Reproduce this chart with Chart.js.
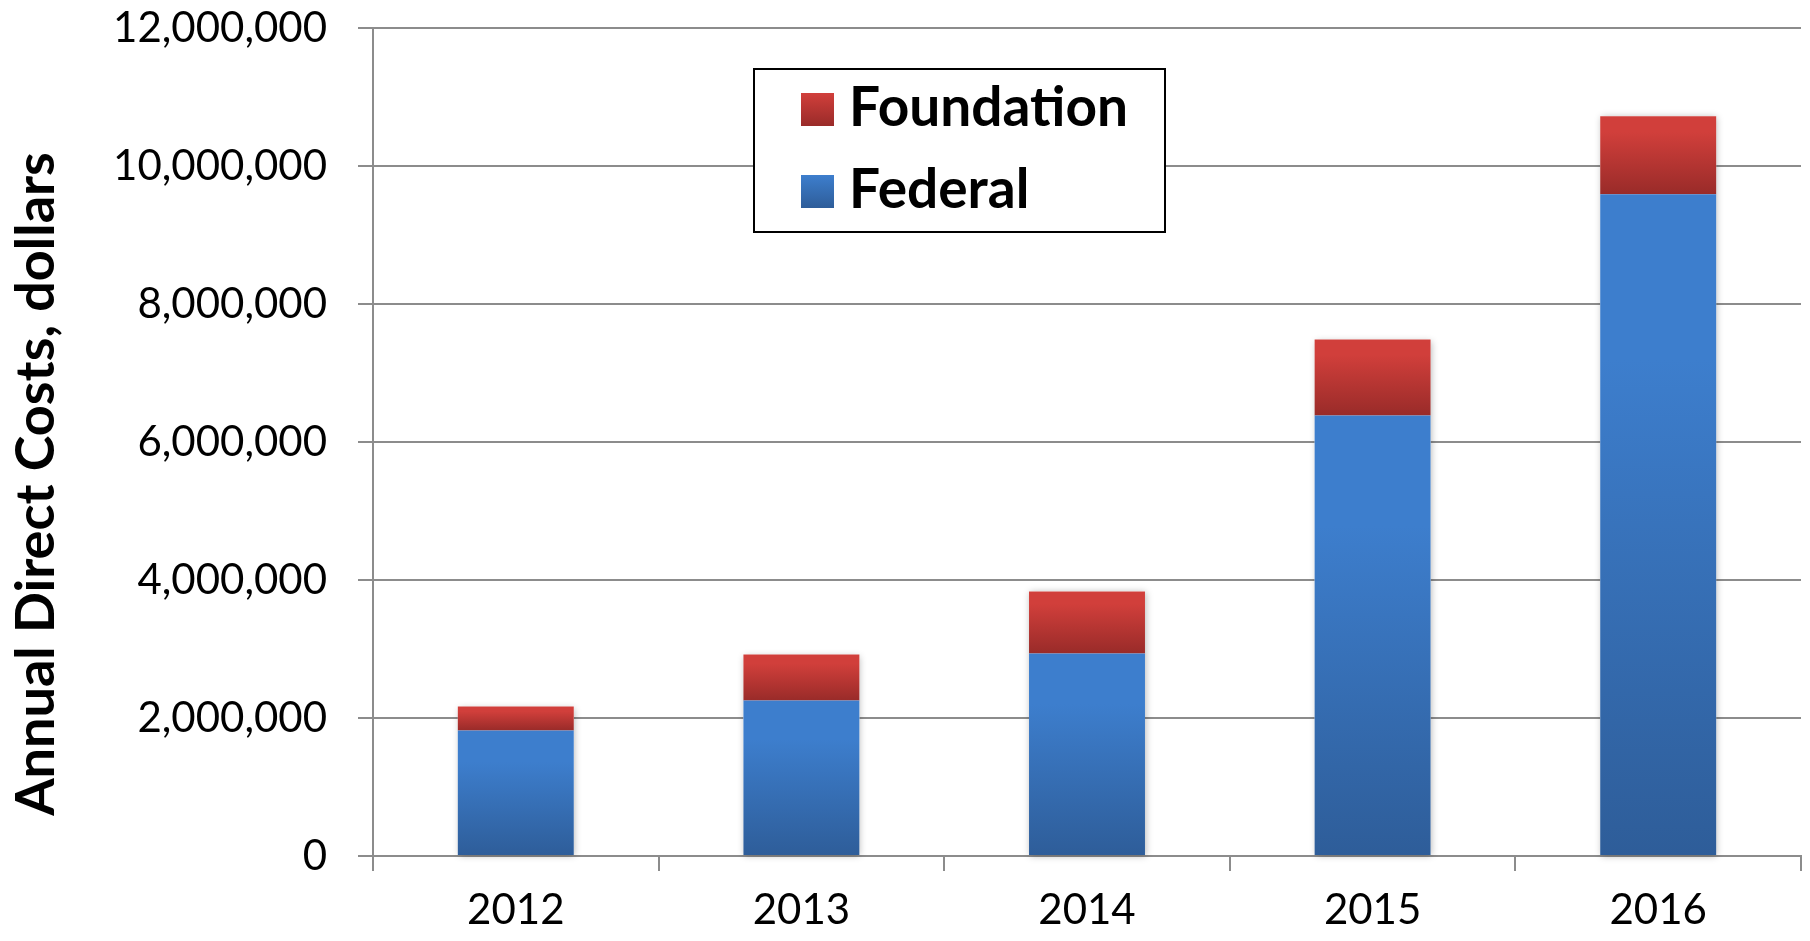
<!DOCTYPE html>
<html>
<head>
<meta charset="utf-8">
<script src="https://cdn.jsdelivr.net/npm/chart.js@4/dist/chart.umd.min.js"></script>
<style>
  html, body { margin: 0; padding: 0; background: #fff; }
  #wrap { width: 1810px; height: 941px; position: relative; }
</style>
</head>
<body>
<div id="wrap"><canvas id="c" width="1810" height="941"></canvas></div>
<script>
const categories = ['2012', '2013', '2014', '2015', '2016'];
const federal = [1820000, 2255000, 2935000, 6385000, 9590000];
const foundation = [345000, 665000, 900000, 1100000, 1130000];
const seriesNames = ['Federal', 'Foundation'];
const yAxisTitle = 'Annual Direct Costs, dollars';
const yMin = 0, yMax = 12000000, yStep = 2000000;

const colors = {
  Federal: { top: '#3D7ECD', bottom: '#2E5D99' },
  Foundation: { top: '#D13F3B', bottom: '#992B29' }
};

function segGradient(ctx, name) {
  const chart = ctx.chart;
  const c = colors[name];
  if (!chart.chartArea || ctx.type !== 'data') return c.top;
  const i = ctx.dataIndex;
  const ys = chart.scales.y;
  const base = name === 'Federal' ? 0 : federal[i];
  const top = name === 'Federal' ? federal[i] : federal[i] + foundation[i];
  const y0 = ys.getPixelForValue(top), y1 = ys.getPixelForValue(base);
  const g = chart.ctx.createLinearGradient(0, y0, 0, Math.max(y1, y0 + 1));
  g.addColorStop(0, c.top);
  g.addColorStop(name === 'Federal' ? 0.25 : 0.2, c.top);
  g.addColorStop(1, c.bottom);
  return g;
}

const shadowPlugin = {
  id: 'barShadow',
  beforeDatasetsDraw(chart) {
    const ctx = chart.ctx;
    const m0 = chart.getDatasetMeta(0).data;
    const m1 = chart.getDatasetMeta(1).data;
    ctx.save();
    ctx.shadowColor = 'rgba(0,0,0,0.28)';
    ctx.shadowBlur = 7;
    ctx.shadowOffsetX = 1;
    ctx.shadowOffsetY = 1;
    ctx.fillStyle = '#ffffff';
    for (let i = 0; i < m0.length; i++) {
      const b = m0[i], t = m1[i];
      const left = b.x - b.width / 2;
      ctx.fillRect(left, t.y, b.width, b.base - t.y);
    }
    ctx.restore();
  }
};

const titleLegendPlugin = {
  id: 'titleLegend',
  afterDraw(chart) {
    const ctx = chart.ctx;
    // y axis title
    ctx.save();
    ctx.translate(37, 484);
    ctx.rotate(-Math.PI / 2);
    ctx.font = 'bold 54px Lato';
    ctx.fillStyle = '#000';
    ctx.textAlign = 'center';
    ctx.textBaseline = 'middle';
    ctx.fillText(yAxisTitle, 0, 0);
    ctx.restore();

    // legend box
    ctx.save();
    ctx.fillStyle = '#fff';
    ctx.fillRect(754, 69, 411, 163);
    ctx.strokeStyle = '#000';
    ctx.lineWidth = 2;
    ctx.strokeRect(754, 69, 411, 163);
    const items = [
      { name: seriesNames[1], y: 93 },
      { name: seriesNames[0], y: 175 }
    ];
    items.forEach(it => {
      const c = colors[it.name];
      const g = ctx.createLinearGradient(0, it.y, 0, it.y + 33);
      g.addColorStop(0, c.top);
      g.addColorStop(1, c.bottom);
      ctx.fillStyle = g;
      ctx.fillRect(801, it.y, 33, 33);
      ctx.fillStyle = '#000';
      ctx.font = 'bold 55px Lato';
      ctx.textAlign = 'left';
      ctx.textBaseline = 'alphabetic';
      ctx.fillText(it.name, 849, it.y + 33);
    });
    ctx.restore();
  }
};

new Chart(document.getElementById('c'), {
  type: 'bar',
  data: {
    labels: categories,
    datasets: [
      {
        label: seriesNames[0],
        data: federal,
        backgroundColor: (ctx) => segGradient(ctx, 'Federal'),
        borderWidth: 0,
        barPercentage: 0.406,
        categoryPercentage: 1.0
      },
      {
        label: seriesNames[1],
        data: foundation,
        backgroundColor: (ctx) => segGradient(ctx, 'Foundation'),
        borderWidth: 0,
        barPercentage: 0.406,
        categoryPercentage: 1.0
      }
    ]
  },
  options: {
    responsive: false,
    animation: false,
    events: [],
    layout: { padding: { left: 0, right: 9, top: 28, bottom: 0 } },
    plugins: {
      legend: { display: false },
      tooltip: { enabled: false },
      title: { display: false }
    },
    scales: {
      x: {
        stacked: true,
        grid: {
          offset: true,
          drawOnChartArea: false,
          drawTicks: true,
          tickLength: 15,
          color: '#8c8c8c',
          lineWidth: 2
        },
        border: { display: true, color: '#8c8c8c', width: 2 },
        ticks: {
          color: '#000',
          font: { family: 'Lato', size: 42 },
          padding: 14
        },
        afterFit(scale) { scale.height = 85; scale.paddingLeft = 0; scale.paddingRight = 0; }
      },
      y: {
        stacked: true,
        min: yMin,
        max: yMax,
        grid: {
          color: '#8c8c8c',
          lineWidth: 2,
          tickLength: 15
        },
        border: { display: true, color: '#8c8c8c', width: 2 },
        ticks: {
          stepSize: yStep,
          color: '#000',
          font: { family: 'Lato', size: 42 },
          padding: 31,
          callback: (v) => v.toLocaleString('en-US')
        },
        afterFit(scale) { scale.width = 373; scale.paddingTop = 0; scale.paddingBottom = 0; }
      }
    }
  },
  plugins: [shadowPlugin, titleLegendPlugin]
});
</script>
</body>
</html>
